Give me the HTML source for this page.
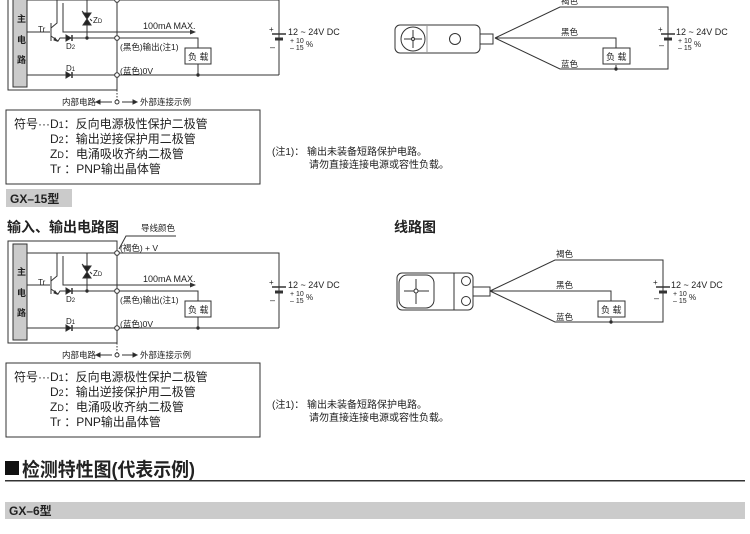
<!DOCTYPE html>
<html><head><meta charset="utf-8"><style>
body{margin:0;background:#fff;width:750px;height:529px;overflow:hidden}
svg text{font-family:"Liberation Sans","Noto Sans CJK SC",sans-serif;fill:#222}
</style></head><body>
<svg width="750" height="529" viewBox="0 0 750 529" xmlns="http://www.w3.org/2000/svg">
<defs>
<marker id="ar" markerWidth="6" markerHeight="6" refX="5" refY="3" orient="auto"><path d="M0,0.5 L6,3 L0,5.5z" fill="#333"/></marker>
<g id="circ" stroke="#333" stroke-width="1" fill="none">
  <rect x="8" y="241" width="109" height="102"/>
  <rect x="13" y="244" width="14" height="96" fill="#cbcbcb"/>
  <text x="17" y="275" font-size="9" stroke="none" font-weight="bold">主</text>
  <text x="17" y="296" font-size="9" stroke="none" font-weight="bold">电</text>
  <text x="17" y="316" font-size="9" stroke="none" font-weight="bold">路</text>
  <path d="M27,253 H279 V328 M27,328 H279"/>
  <path d="M117,343 V355" stroke-dasharray="1.5,1.5"/>
  <path d="M87,253 V291"/>
  <path d="M83,266 h8 l-4,6z M83,278 h8 l-4,-6z" fill="#222"/>
  <path d="M82,264 l2,2 M92,274 l-2,-2"/>
  <path d="M27,285 H50 M51,276 V294 M51,281 L57,276 V253 M51,289 L58,294 L60,291 H117 M117,291 H198 V301 M198,317 V328"/>
  <path d="M57,294 l-3,-1 l1,-2z" fill="#222"/>
  <path d="M63,256 V285 H195" marker-end="url(#ar)"/>
  <path d="M66,288 v6 l5,-3z M66,325 v6 l5,-3z" fill="#222"/>
  <path d="M72,288 v6 M72,325 v6" stroke-width="1.5"/>
  <circle cx="117" cy="253" r="2.3" fill="#fff"/>
  <circle cx="117" cy="291" r="2.3" fill="#fff"/>
  <circle cx="117" cy="328" r="2.3" fill="#fff"/>
  <circle cx="198" cy="328" r="1.2" fill="#222"/>
  <circle cx="87" cy="291" r="1.2" fill="#222"/>
  <rect x="185" y="301" width="26" height="16" fill="#fff"/>
  <text x="188" y="313" font-size="9" stroke="none">负 载</text>
  <text x="38" y="285" font-size="8" stroke="none">Tr</text>
  <text x="93" y="276" font-size="8" stroke="none">Z<tspan font-size="6">D</tspan></text>
  <text x="66" y="302" font-size="8" stroke="none">D<tspan font-size="6">2</tspan></text>
  <text x="66" y="324" font-size="8" stroke="none">D<tspan font-size="6">1</tspan></text>
  <text x="143" y="282" font-size="9" stroke="none">100mA  MAX.</text>
  <text x="120" y="303" font-size="8.5" stroke="none">(黑色)输出(注1)</text>
  <text x="120" y="327" font-size="8.5" stroke="none">(蓝色)0V</text>
  <path d="M279,283 V287 M279,293 V328"/>
  <path d="M272,287 H286" stroke-width="1.5"/>
  <path d="M275,292 H283" stroke-width="3"/>
  <text x="269" y="285" font-size="8" stroke="none">+</text>
  <text x="270" y="303" font-size="9" stroke="none">–</text>
  <text x="288" y="288" font-size="9" stroke="none">12 ~ 24V DC</text>
  <text x="290" y="296" font-size="7" stroke="none">+ 10</text>
  <text x="290" y="303" font-size="7" stroke="none">– 15</text>
  <text x="306" y="300" font-size="8" stroke="none">%</text>
  <text x="62" y="358" font-size="8.5" stroke="none">内部电路</text>
  <path d="M112,355 H100 M122,355 H133"/>
  <path d="M100,353 l-4,2 l4,2z M133,353 l4,2 l-4,2z" fill="#222"/>
  <circle cx="117" cy="355" r="2" fill="#fff"/>
  <text x="140" y="358" font-size="8.5" stroke="none">外部连接示例</text>
  <rect x="6" y="363" width="254" height="74"/>
  <g stroke="none" font-size="12">
  <text x="14" y="381">符号···D<tspan font-size="9">1</tspan>：反向电源极性保护二极管</text>
  <text x="50" y="396">D<tspan font-size="9">2</tspan>：输出逆接保护用二极管</text>
  <text x="50" y="411">Z<tspan font-size="9">D</tspan>：电涌吸收齐纳二极管</text>
  <text x="50" y="426">Tr ：PNP输出晶体管</text>
  <text x="272" y="408" font-size="10">(注1)：  输出未装备短路保护电路。</text>
  <text x="309" y="421" font-size="10">请勿直接连接电源或容性负载。</text>
  </g>
</g>
<g id="wire" stroke="#333" stroke-width="1" fill="none">
  <path d="M490,291 L555,260 H663 V322 H555 L490,291 L611,291 V301 M611,318 V322 M663,260 V283 M663,293 V322"/>
  <circle cx="611" cy="322" r="1.2" fill="#222"/>
  <rect x="598" y="301" width="27" height="16" fill="#fff"/>
  <text x="601" y="313" font-size="9" stroke="none">负 载</text>
  <text x="556" y="257" font-size="8.5" stroke="none">褐色</text>
  <text x="556" y="288" font-size="8.5" stroke="none">黑色</text>
  <text x="556" y="320" font-size="8.5" stroke="none">蓝色</text>
  <path d="M656,287 H670" stroke-width="1.5"/>
  <path d="M659,292 H667" stroke-width="3"/>
  <text x="653" y="285" font-size="8" stroke="none">+</text>
  <text x="654" y="301" font-size="9" stroke="none">–</text>
  <text x="671" y="288" font-size="9" stroke="none">12 ~ 24V DC</text>
  <text x="673" y="296" font-size="7" stroke="none">+ 10</text>
  <text x="673" y="303" font-size="7" stroke="none">– 15</text>
  <text x="689" y="300" font-size="8" stroke="none">%</text>
</g>
</defs>

<use href="#circ" transform="translate(0,-253)"/>
<use href="#circ"/>
<use href="#wire" transform="translate(5,-253)"/>
<use href="#wire"/>

<g stroke="#333" fill="none">
  <rect x="395" y="25" width="85" height="28" rx="5" fill="#fff"/>
  <path d="M427,25 V53" stroke="#999"/>
  <circle cx="413" cy="39" r="12" fill="#fff"/>
  <path d="M404,39 H422 M413,30 V48"/>
  <circle cx="413" cy="39" r="1.5" fill="#fff"/>
  <circle cx="455" cy="39" r="5.5"/>
  <rect x="480" y="34" width="13" height="10" fill="#fff"/>
</g>
<g stroke="#333" fill="none">
  <rect x="397" y="273" width="76" height="37" rx="5" fill="#fff"/>
  <path d="M454,273 V310"/>
  <rect x="399" y="275" width="35" height="33" rx="8"/>
  <path d="M404,291 H429 M416,279 V304"/>
  <circle cx="416" cy="291" r="2" fill="#fff"/>
  <circle cx="466" cy="281" r="4.5"/>
  <circle cx="466" cy="301" r="4.5"/>
  <rect x="473" y="287" width="17" height="9" fill="#fff"/>
</g>

<g stroke="#333" fill="none"><path d="M119,249 L126,236 H176"/></g>
<text x="141" y="231" font-size="8.5">导线颜色</text>
<text x="120" y="251" font-size="8.5">(褐色) + V</text>

<rect x="6" y="189" width="66" height="18" fill="#cbcbcb"/>
<text x="10" y="203" font-size="12" font-weight="bold">GX–15型</text>
<text x="7" y="232" font-size="14" font-weight="bold">输入、输出电路图</text>
<text x="394" y="232" font-size="14" font-weight="bold">线路图</text>

<rect x="5" y="461" width="14" height="14" fill="#111"/>
<text x="22" y="476" font-size="19" font-weight="bold" textLength="173" lengthAdjust="spacingAndGlyphs">检测特性图(代表示例)</text>
<rect x="5" y="480" width="740" height="1.5" fill="#333"/>
<rect x="5" y="502" width="740" height="17" fill="#cbcbcb"/>
<text x="9" y="515" font-size="12" font-weight="bold">GX–6型</text>
</svg>
</body></html>
